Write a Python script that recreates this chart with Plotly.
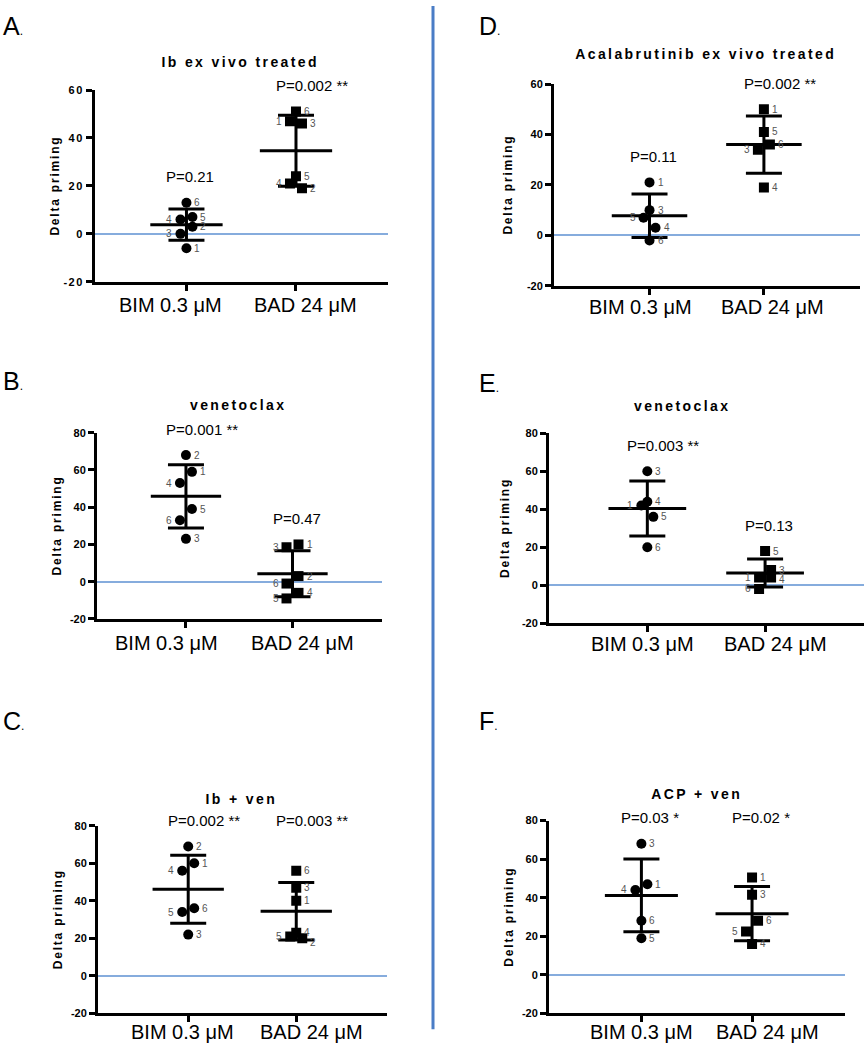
import json
import numpy as np
import plotly.graph_objects as go

# ---------------- data ----------------
categories = ["BIM 0.3 μM", "BAD 24 μM"]

a_title = "Ib ex vivo treated"
a_bim_ids = [1, 2, 3, 4, 5, 6]
a_bim = [-6, 3, 0, 6, 7, 13]
a_bad_ids = [1, 2, 3, 4, 5, 6]
a_bad = [47, 19, 46, 21, 24, 51]
a_pvals = ["P=0.21", "P=0.002 **"]

b_title = "venetoclax"
b_bim_ids = [1, 2, 3, 4, 5, 6]
b_bim = [59, 68, 23, 53, 39, 33]
b_bad_ids = [1, 2, 3, 4, 5, 6]
b_bad = [20, 3, 18.5, -6, -9, -1]
b_pvals = ["P=0.001 **", "P=0.47"]

c_title = "Ib + ven"
c_bim_ids = [1, 2, 3, 4, 5, 6]
c_bim = [60, 69, 22, 56, 34, 36]
c_bad_ids = [1, 2, 3, 4, 5, 6]
c_bad = [40, 20, 47, 23, 21, 56]
c_pvals = ["P=0.002 **", "P=0.003 **"]

d_title = "Acalabrutinib ex vivo treated"
d_bim_ids = [1, 3, 4, 5, 6]
d_bim = [21, 10, 3, 7, -2]
d_bad_ids = [1, 3, 4, 5, 6]
d_bad = [50, 34, 19, 41, 36]
d_pvals = ["P=0.11", "P=0.002 **"]

e_title = "venetoclax"
e_bim_ids = [1, 3, 4, 5, 6]
e_bim = [42, 60, 44, 36, 20]
e_bad_ids = [1, 3, 4, 5, 6]
e_bad = [4, 8, 4, 18, -2]
e_pvals = ["P=0.003 **", "P=0.13"]

f_title = "ACP + ven"
f_bim_ids = [1, 3, 4, 5, 6]
f_bim = [47, 68, 44, 19, 28]
f_bad_ids = [1, 3, 4, 5, 6]
f_bad = [50.5, 41.5, 16, 22.5, 28]
f_pvals = ["P=0.03 *", "P=0.02 *"]

y_axis_title = "Delta priming"
y_ticks_60 = [-20, 0, 20, 40, 60]
y_ticks_80 = [-20, 0, 20, 40, 60, 80]

# ---------------- layout (pixel geometry) ----------------
W, H = 864, 1050
FONT = "Arial, Liberation Sans, sans-serif"

panels = [
    dict(letter="A", title=a_title, groups=[(a_bim_ids, a_bim), (a_bad_ids, a_bad)], pvals=a_pvals,
         ticks=y_ticks_60, px_x=(95, 388), px_y=(85, 279), title_xy=(240, 57), letter_xy=(1, 20),
         align_p=False, cat_shift=(-16, 10), cat_dy=23, ytitle_dx=-40),
    dict(letter="B", title=b_title, groups=[(b_bim_ids, b_bim), (b_bad_ids, b_bad)], pvals=b_pvals,
         ticks=y_ticks_80, px_x=(97, 382), px_y=(431.7, 620), title_xy=(239, 404), letter_xy=(1, 379),
         align_p=False, cat_shift=(-19, 10), cat_dy=24, ytitle_dx=-40),
    dict(letter="C", title=c_title, groups=[(c_bim_ids, c_bim), (c_bad_ids, c_bad)], pvals=c_pvals,
         ticks=y_ticks_80, px_x=(98, 387), px_y=(829.3, 1019), title_xy=(241, 802), letter_xy=(1, 723),
         align_p=True, cat_shift=(-6, 15), cat_dy=19, ytitle_dx=-40),
    dict(letter="D", title=d_title, groups=[(d_bim_ids, d_bim), (d_bad_ids, d_bad)], pvals=d_pvals,
         ticks=y_ticks_60, px_x=(554, 860), px_y=(79, 283), title_xy=(705, 49), letter_xy=(477, 20),
         align_p=False, cat_shift=(-9, 9), cat_dy=21, ytitle_dx=-46),
    dict(letter="E", title=e_title, groups=[(e_bim_ids, e_bim), (e_bad_ids, e_bad)], pvals=e_pvals,
         ticks=y_ticks_80, px_x=(549, 864), px_y=(432.3, 624.3), title_xy=(682, 405), letter_xy=(477, 381),
         align_p=False, cat_shift=(-5, 10), cat_dy=21, ytitle_dx=-44),
    dict(letter="F", title=f_title, groups=[(f_bim_ids, f_bim), (f_bad_ids, f_bad)], pvals=f_pvals,
         ticks=y_ticks_80, px_x=(549, 845), px_y=(824, 1019), title_xy=(696, 797), letter_xy=(477, 723),
         align_p=True, cat_shift=(0, 15), cat_dy=19, ytitle_dx=-40),
]

X_RANGE = [-0.835, 1.84]
MEAN_HALF = 0.33
CAP_HALF_PX = 18
MARKER = 10
SYMBOLS = ["circle", "square"]
LABEL_SEP = 10


def swarm(vals, ppu, step=6.0, gap=12.0):
    """Cluster points that are closer than `gap` px and spread them sideways."""
    n = len(vals)
    order = sorted(range(n), key=lambda i: -vals[i])
    clusters, cur = [], [order[0]]
    for a, b in zip(order, order[1:]):
        if (vals[a] - vals[b]) * ppu < gap:
            cur.append(b)
        else:
            clusters.append(cur)
            cur = [b]
    clusters.append(cur)
    offs = [0.0] * n
    for cl in clusters:
        m = len(cl)
        if m == 1:
            continue
        if m % 2 == 0:
            pattern = [1 if j % 2 == 0 else -1 for j in range(m)]
        else:
            pattern = [0] + [(-1 if j % 2 == 1 else 1) for j in range(1, m)]
        for j, i in enumerate(cl):
            offs[i] = pattern[j] * step
    return offs


def label_shifts(vals, offs, ppu):
    """Push same-side id labels apart vertically (returns yshift in px)."""
    n = len(vals)
    shifts = [0.0] * n
    for side in (True, False):
        idx = [i for i in range(n) if (offs[i] >= 0) == side]
        idx.sort(key=lambda i: -vals[i])
        prev = None
        for i in idx:
            ypx = -vals[i] * ppu
            if prev is not None and ypx < prev + LABEL_SEP:
                ypx = prev + LABEL_SEP
            shifts[i] = -(ypx + vals[i] * ppu)
            prev = ypx
    return shifts


fig = go.Figure()
annotations = []
layout_axes = {}

for k, p in enumerate(panels, start=1):
    xa = "x" if k == 1 else f"x{k}"
    ya = "y" if k == 1 else f"y{k}"
    xname = "xaxis" if k == 1 else f"xaxis{k}"
    yname = "yaxis" if k == 1 else f"yaxis{k}"
    x0, x1 = p["px_x"]
    yt, yb = p["px_y"]
    ymin, ymax = p["ticks"][0], p["ticks"][-1]
    ppu_y = (yb - yt) / (ymax - ymin)
    ppu_x = (x1 - x0) / (X_RANGE[1] - X_RANGE[0])

    layout_axes[xname] = dict(
        domain=[x0 / W, x1 / W], anchor=ya, range=X_RANGE, tickvals=[0, 1], ticktext=categories,
        showticklabels=False,
        showline=True, linewidth=3, linecolor="black", ticks="outside", ticklen=6, tickwidth=3,
        tickcolor="black", showgrid=False, zeroline=False, fixedrange=True,
    )
    layout_axes[yname] = dict(
        domain=[1 - yb / H, 1 - yt / H], anchor=xa, range=[ymin, ymax], tickvals=p["ticks"],
        ticktext=[str(t) for t in p["ticks"]],
        showline=True, linewidth=3, linecolor="black", ticks="outside", ticklen=6, tickwidth=3,
        tickcolor="black", showgrid=False, zeroline=True, zerolinecolor="#86ACDD", zerolinewidth=1.5,
        tickfont=dict(family=FONT, size=11, color="black", weight="bold"), fixedrange=True,
    )

    # category labels (x tick labels)
    for gi, cat in enumerate(categories):
        annotations.append(dict(
            x=gi, xref=xa, y=1 - (yb + p["cat_dy"]) / H, yref="paper", text=cat, showarrow=False,
            xanchor="center", yanchor="middle", xshift=p["cat_shift"][gi],
            font=dict(family=FONT, size=20, color="black"),
        ))

    group_max = [max(v) for _, v in p["groups"]]
    for gi, (ids, vals) in enumerate(p["groups"]):
        vals = np.asarray(vals, dtype=float)
        offs = swarm(list(vals), ppu_y)
        lshift = label_shifts(list(vals), offs, ppu_y)
        xs = [gi + o / ppu_x for o in offs]
        mean = float(vals.mean())
        sd = float(vals.std(ddof=1))
        fig.add_trace(go.Scatter(
            x=xs, y=vals, mode="markers", xaxis=xa, yaxis=ya, showlegend=False,
            marker=dict(symbol=SYMBOLS[gi], size=MARKER, color="black", line=dict(width=0)),
        ))
        fig.add_trace(go.Scatter(
            x=[gi - MEAN_HALF, gi + MEAN_HALF], y=[mean, mean], mode="lines", xaxis=xa, yaxis=ya,
            showlegend=False, line=dict(color="black", width=3),
        ))
        fig.add_trace(go.Scatter(
            x=[gi], y=[mean], mode="markers", xaxis=xa, yaxis=ya, showlegend=False,
            marker=dict(size=1, color="black"),
            error_y=dict(type="data", array=[sd], symmetric=True, thickness=3, width=CAP_HALF_PX, color="black"),
        ))
        # point id labels
        for pid, xv, yv, o, ls in zip(ids, xs, vals, offs, lshift):
            right = o >= 0
            annotations.append(dict(
                x=xv, y=float(yv), xref=xa, yref=ya, text=str(pid), showarrow=False,
                xanchor="left" if right else "right", xshift=6 if right else -6,
                yanchor="middle", yshift=ls,
                font=dict(family=FONT, size=10, color="#555555"),
            ))
        # p-value
        p_level = max(group_max) if p["align_p"] else group_max[gi]
        annotations.append(dict(
            x=gi, y=p_level, xref=xa, yref=ya, text=p["pvals"][gi], showarrow=False,
            xanchor="left", xshift=-22, yanchor="middle", yshift=26,
            font=dict(family=FONT, size=15, color="black"),
        ))

    # panel title
    tx, ty = p["title_xy"]
    annotations.append(dict(
        x=tx / W, y=1 - ty / H, xref="paper", yref="paper", text=f"<b>{p['title']}</b>", showarrow=False,
        xanchor="center", yanchor="middle", font=dict(family=FONT, size=14, color="black"),
    ))
    # y-axis title
    annotations.append(dict(
        x=x0 / W, y=1 - (yt + yb) / 2 / H, xref="paper", yref="paper", text=f"<b>{y_axis_title}</b>",
        showarrow=False, textangle=-90, xanchor="center", yanchor="middle", xshift=p["ytitle_dx"],
        font=dict(family=FONT, size=12, color="black"),
    ))
    # panel letter
    lx, ly = p["letter_xy"]
    annotations.append(dict(
        x=lx / W, y=1 - ly / H, xref="paper", yref="paper",
        text=f"{p['letter']}<span style='font-size:12px'>.</span>", showarrow=False,
        xanchor="left", yanchor="middle", font=dict(family=FONT, size=25, color="black"),
    ))

fig.update_layout(
    width=W, height=H, margin=dict(l=0, r=0, t=0, b=0),
    paper_bgcolor="white", plot_bgcolor="white", showlegend=False,
    annotations=annotations,
    shapes=[dict(type="line", xref="paper", yref="paper", x0=433 / W, x1=433 / W,
                 y0=1 - 1035 / H, y1=1, line=dict(color="#4A7DC6", width=3))],
    **layout_axes,
)

spaced_titles = sorted({p["title"] for p in panels})
post_js = """
document.body.style.margin = '0';
document.body.style.padding = '0';
(function(){
  var gd = document.getElementById('{plot_id}');
  var titles = %s;
  var ytitle = %s;
  gd.querySelectorAll('.annotation-text').forEach(function(t){
    var s = t.textContent;
    if (titles.indexOf(s) >= 0) { t.style.letterSpacing = '2.4px'; }
    else if (s === ytitle) { t.style.letterSpacing = '1.8px'; }
  });
  gd.querySelectorAll('.ytick text').forEach(function(t){ t.style.letterSpacing = '1.5px'; });
})();
""" % (json.dumps(spaced_titles), json.dumps(y_axis_title))

fig.write_html("out.html", post_script=post_js, config={"displayModeBar": False})
